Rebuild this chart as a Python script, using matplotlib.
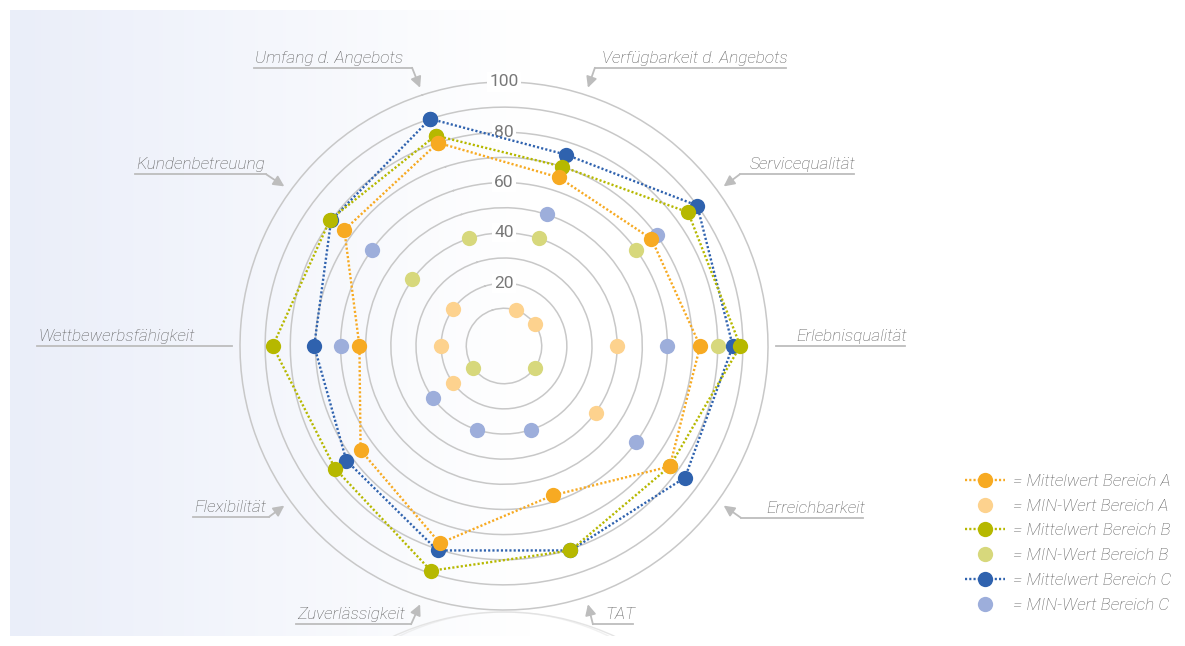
import numpy as np
import matplotlib.pyplot as plt
from matplotlib.lines import Line2D
from matplotlib.patches import FancyArrowPatch, Circle, Rectangle
from matplotlib.transforms import IdentityTransform

# ---------- data ----------
categories = ["Umfang d. Angebots", "Verfügbarkeit d. Angebots", "Servicequalität",
              "Erlebnisqualität", "Erreichbarkeit", "TAT", "Zuverlässigkeit",
              "Flexibilität", "Wettbewerbsfähigkeit", "Kundenbetreuung"]
nan = np.nan
mittel_a = [80, 65.5, 67.5, 73, 76.5, 57.5, 77.5, 65.5, 52.5, 73.5]
mittel_b = [83, 70, 85.5, 89, 76.5, 80.5, 89, 78, 87, 80.5]
mittel_c = [90, 75, 90, 86, 84, 80.5, 80.5, 72.5, 70.5, 80]
min_a = [nan, 10, 10, 40, 40, nan, nan, 20, 20, 20]
min_b = [40, 40, 60, 80, 10, nan, nan, 10, nan, 40]
min_c = [nan, 50, 70, 60, 60, 30, 30, 30, 60, 60]
r_labels = [20, 40, 60, 80, 100]

# colours
C_A, C_A_MIN = "#F7AA22", "#FDD28E"
C_B, C_B_MIN = "#B6B800", "#D7D87C"
C_C, C_C_MIN = "#2F62AE", "#9DAEDB"
GRID = "#C8C8C8"
TXT = "#5E5E5E"
ARROW = "#BDBDBD"

W, H = 1185, 646
fig = plt.figure(figsize=(W / 100, H / 100), dpi=100)
fig.patch.set_facecolor("white")

font = dict(family="Roboto", style="italic", weight="light")
FS = 12.4

# ---------- background panel with soft gradient ----------
bg = fig.add_axes([0, 0, 1, 1], zorder=-5)
bg.set_xlim(0, W)
bg.set_ylim(H, 0)
bg.axis("off")
xs = np.arange(10, 1176)
t = np.clip((xs - 10) / 520.0, 0, 1)
start = np.array([234, 238, 249]) / 255.0
grad = start[None, :] * (1 - t[:, None]) + np.ones(3)[None, :] * t[:, None]
bg.imshow(grad[None, :, :], extent=(10, 1176, 636, 10), aspect="auto", interpolation="bilinear")
# faint reflection under the chart, kept inside the panel
panel = Rectangle((10, 10), 1166, 626, transform=bg.transData)
for rr, a in [(264, 0.9), (239, 0.5)]:
    c = Circle((504, 612 + rr), rr, fill=False, ec="#E2E2E2", lw=1, alpha=a)
    bg.add_patch(c)
    c.set_clip_path(panel)

# ---------- radar ----------
rmin, rmax = -5, 105
R_px = 264 * (rmax - rmin) / (100 - rmin)
cx, cy = 504, H - 346
ax = fig.add_axes([(cx - R_px) / W, (cy - R_px) / H, 2 * R_px / W, 2 * R_px / H],
                  projection="polar")
ax.set_facecolor("none")
ax.set_theta_offset(np.radians(108))
ax.set_theta_direction(-1)
ax.set_ylim(rmin, rmax)
ax.set_yticks(np.arange(10, 101, 10))
ax.set_yticklabels([])
ax.set_xticks([])
ax.spines["polar"].set_visible(False)
ax.yaxis.grid(True, color=GRID, lw=1.1)
ax.xaxis.grid(False)

n = len(categories)
theta = np.linspace(0, 2 * np.pi, n, endpoint=False)
theta_c = np.append(theta, theta[0])

ms = 11
for vals, col in [(min_c, C_C_MIN), (min_b, C_B_MIN), (min_a, C_A_MIN)]:
    ax.plot(theta, vals, ls="none", marker="o", ms=ms, color=col, mec="none", zorder=3)

dot = (0, (0.9, 0.9))
for vals, col in [(mittel_c, C_C), (mittel_b, C_B), (mittel_a, C_A)]:
    v = np.append(vals, vals[0])
    ax.plot(theta_c, v, ls=dot, lw=1.7, color=col, marker="o", ms=ms, mec="none", zorder=4)

# radial labels on the upward axis
t_up = np.radians(108 - 90)
for r in r_labels:
    ax.text(t_up, r, str(r), ha="center", va="center", fontsize=12.5, color="#787878",
            family="Roboto", weight="normal", zorder=2,
            bbox=dict(boxstyle="square,pad=0.12", fc="white", ec="none"))

# ---------- category labels with arrows ----------
# elbow offset from arrow tip (px, y up), underline length, side
elbows = [(-8, 20), (7, 20), (16, 12), (0, 0), (17, -12),
          (5, -20), (-9, -20), (-15, -11), (0, 0), (-18, 12)]
u_len = [158, 191, 114, 129, 122, 40, 115, 76, 195, 131]
sides = [-1, 1, 1, 1, 1, 1, -1, -1, -1, -1]

fig.canvas.draw()
ident = IdentityTransform()
for i, name in enumerate(categories):
    tx, ty = ax.transData.transform((theta[i], 103))
    ex, ey = tx + elbows[i][0], ty + elbows[i][1]
    fx = ex + sides[i] * u_len[i]
    fig.add_artist(Line2D([ex, fx], [ey, ey], color=ARROW, lw=1.3, transform=ident))
    fig.add_artist(FancyArrowPatch((ex, ey), (tx, ty), arrowstyle="-|>", mutation_scale=16,
                                   color=ARROW, lw=1.3, shrinkA=0, shrinkB=0,
                                   transform=ident))
    if sides[i] < 0:
        fig.text(fx + 1, ey + 5, name, ha="left", va="baseline", fontsize=FS,
                 color=TXT, transform=ident, **font)
    else:
        fig.text(fx + 2, ey + 5, name, ha="right", va="baseline", fontsize=FS,
                 color=TXT, transform=ident, **font)

# ---------- legend ----------
handles = [
    Line2D([], [], ls=dot, lw=1.7, color=C_A, marker="o", ms=ms, mec="none"),
    Line2D([], [], ls="none", color=C_A_MIN, marker="o", ms=ms, mec="none"),
    Line2D([], [], ls=dot, lw=1.7, color=C_B, marker="o", ms=ms, mec="none"),
    Line2D([], [], ls="none", color=C_B_MIN, marker="o", ms=ms, mec="none"),
    Line2D([], [], ls=dot, lw=1.7, color=C_C, marker="o", ms=ms, mec="none"),
    Line2D([], [], ls="none", color=C_C_MIN, marker="o", ms=ms, mec="none"),
]
labels = ["= Mittelwert Bereich A", "= MIN-Wert Bereich A",
          "= Mittelwert Bereich B", "= MIN-Wert Bereich B",
          "= Mittelwert Bereich C", "= MIN-Wert Bereich C"]
leg = fig.legend(handles, labels, loc="upper left", bbox_to_anchor=(965 / W, 1 - 474 / H),
                 frameon=False, handlelength=2.35, handletextpad=0.45, labelspacing=0.56,
                 borderpad=0, borderaxespad=0,
                 prop=dict(family="Roboto", style="italic", weight="light", size=FS))
for txt in leg.get_texts():
    txt.set_color(TXT)

fig.savefig("out.png", dpi=100, facecolor="white")
